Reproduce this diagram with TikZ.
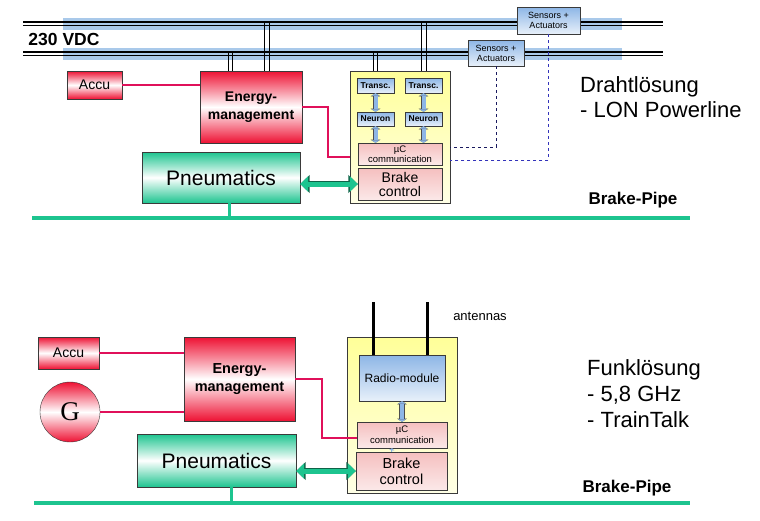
\documentclass[tikz,border=0pt]{standalone}
\usepackage{fontspec}
\setmainfont{Liberation Sans}
\newfontfamily\gfont{Liberation Serif}
\usepackage{tikz}
\usetikzlibrary{arrows.meta}
\usetikzlibrary{calc}
\usepackage{xcolor}
\definecolor{tikz-block}{HTML}{3A3A3A}
\definecolor{tikz-red}{HTML}{EE1133}
\definecolor{tikz-wire}{HTML}{E0105A}
\definecolor{tikz-green}{HTML}{1DC48F}
\definecolor{tikz-bus}{HTML}{A9C9EA}
\definecolor{tikz-blue}{HTML}{8DB6E6}
\definecolor{tikz-yellow}{HTML}{FFFF99}
\definecolor{tikz-pink}{HTML}{F5BFBF}
\definecolor{tikz-dash}{HTML}{3333BB}
\tikzset{every node/.style={align=center}}
\tikzstyle{redblock} = [draw=tikz-block, top color=tikz-red, bottom color=tikz-red, middle color=white, inner sep=0pt]
\tikzstyle{greenblock} = [draw=tikz-block, top color=tikz-green, bottom color=tikz-green, middle color=white, inner sep=0pt]
\tikzstyle{blueblock} = [draw=tikz-block, top color=tikz-blue, bottom color=tikz-blue!20, inner sep=0pt]
\tikzstyle{unit} = [draw=tikz-block, top color=tikz-yellow, bottom color=tikz-yellow!25, inner sep=0pt]
\tikzstyle{pinkblock} = [draw=tikz-block, top color=tikz-pink, bottom color=tikz-pink!35, inner sep=0pt]
\tikzstyle{wire} = [draw=tikz-wire, line width=2pt]
\tikzstyle{tap} = [draw=black, line width=0.7pt]
\tikzstyle{bus} = [draw=black, line width=1.8pt]
\tikzstyle{pipe} = [draw=tikz-green, line width=4.5pt]
\tikzstyle{sens} = [draw=tikz-dash, dashed, line width=0.6pt]
\tikzstyle{pn} = [draw=tikz-green, line width=5pt, {Triangle[length=8pt,width=15pt]}-{Triangle[length=8pt,width=15pt]},
  preaction={draw=tikz-green!50!black, line width=6.6pt, {Triangle[length=9.5pt,width=17.5pt]}-{Triangle[length=9.5pt,width=17.5pt]}}]
\tikzstyle{dbl} = [draw=tikz-blue, line width=4pt, {Triangle[length=2.5pt,width=8pt]}-{Triangle[length=2.5pt,width=8pt]},
  preaction={draw=black!70, line width=5.4pt, {Triangle[length=3.2pt,width=9.8pt]}-{Triangle[length=3.2pt,width=9.8pt]}}]

\begin{document}
\begin{tikzpicture}[x=1pt, y=-1pt]
      \useasboundingbox (0,0) rectangle (760,520);
      % 230 VDC bus
      \foreach \y in {23.5,53.5} \fill[tikz-bus] (63,\y-6) rectangle (622,\y+6);
      \foreach \y in {22,25.5,52,55.5} \draw[bus] (23,\y) -- (663,\y);
      \coordinate (bus1) at (0,21);
      \coordinate (bus2) at (0,51);
      \node[font=\bfseries\fontsize{17.5}{18}\selectfont] (vdc) at (64,39) {230 VDC};

      % Drahtloesung
      \node[redblock, minimum width=55pt, minimum height=28pt, font=\fontsize{14}{16}\selectfont] (accu1) at (94.5,85) {Accu};
      \node[redblock, minimum width=102pt, minimum height=72pt, font=\bfseries\fontsize{14}{18}\selectfont] (em1) at (251,107) {Energy-\\management};
      \node[greenblock, minimum width=158pt, minimum height=51pt, font=\fontsize{21}{22}\selectfont] (pn1) at (221,177.5) {Pneumatics};
      \node[unit, minimum width=100pt, minimum height=132pt] (unit1) at (400,137) {};
      \node[blueblock, minimum width=37pt, minimum height=15pt, font=\bfseries\fontsize{8.5}{9}\selectfont] (tr1a) at (375.5,85.5) {Transc.};
      \node[blueblock, minimum width=37pt, minimum height=15pt, font=\bfseries\fontsize{8.5}{9}\selectfont] (tr1b) at (423.5,85.5) {Transc.};
      \node[blueblock, minimum width=37pt, minimum height=14pt, font=\bfseries\fontsize{8.5}{9}\selectfont] (ne1a) at (375.5,119) {Neuron};
      \node[blueblock, minimum width=37pt, minimum height=14pt, font=\bfseries\fontsize{8.5}{9}\selectfont] (ne1b) at (423.5,119) {Neuron};
      \node[pinkblock, minimum width=84pt, minimum height=22pt, font=\fontsize{9.5}{10}\selectfont] (uc1) at (400,154) {µC\\communication};
      \node[pinkblock, minimum width=84pt, minimum height=32pt, font=\fontsize{14}{14}\selectfont] (bc1) at (400,184) {Brake\\control};
      \node[blueblock, minimum width=63pt, minimum height=27pt, font=\fontsize{9}{10}\selectfont] (sa1) at (548.5,20.5) {Sensors +\\Actuators};
      \node[blueblock, minimum width=56pt, minimum height=26pt, font=\fontsize{9}{10}\selectfont] (sa2) at (496,53) {Sensors +\\Actuators};
      \node[anchor=north west, inner sep=0pt, align=left, font=\fontsize{22}{25}\selectfont] (txt1) at (580,76) {Drahtlösung\\- LON Powerline};

      \foreach \dx/\b in {29/bus2, 33/bus2, 65/bus1, 70/bus1}
        \draw[tap] (em1.north west) ++(\dx,0) coordinate (t) -- (t |- \b);
      \foreach \dx/\b in {24/bus2, 28/bus2, 72/bus1, 77/bus1}
        \draw[tap] (unit1.north west) ++(\dx,0) coordinate (t) -- (t |- \b);
      \foreach \c in {a,b} {
        \draw[dbl] (tr1\c) -- (ne1\c);
        \draw[dbl] (ne1\c) -- (ne1\c |- uc1.north);
      }
      \draw[wire] (accu1.east) -- (accu1.east -| em1.west);
      \draw[wire] (em1.east) -- ++(26,0) |- ([yshift=-3pt]uc1.west -| unit1.west);
      \draw[sens, draw=black!50!tikz-dash] (sa2.south) |- ([yshift=-4pt]uc1.north -| unit1.east);
      \draw[sens, line width=1pt] (sa1.south) |- ([yshift=-6pt]uc1.east -| unit1.east);
      \draw[pn] (bc1.west -| pn1.east) -- (bc1.west);
      \coordinate (bp1w) at (32,218);
      \coordinate (bp1e) at (690,218);
      \draw[pipe] (bp1w) -- (bp1e);
      \draw[pipe, line width=3pt] ([xshift=8pt]pn1.south) -- ([xshift=8pt]pn1.south |- bp1w);
      \node[font=\bfseries\fontsize{17}{17}\selectfont] (bp1) at (633,200) {Brake-Pipe};

      % Funkloesung
      \node[redblock, minimum width=61pt, minimum height=32pt, font=\fontsize{14}{16}\selectfont] (accu2) at (68.5,353) {Accu};
      \node[redblock, circle, minimum size=60pt, font=\gfont\fontsize{27}{27}\selectfont] (gen) at (70,412) {G};
      \node[redblock, minimum width=111pt, minimum height=84pt, font=\bfseries\fontsize{14.5}{18}\selectfont] (em2) at (239.5,379) {Energy-\\management};
      \node[greenblock, minimum width=159pt, minimum height=53pt, font=\fontsize{21}{22}\selectfont] (pn2) at (216.5,460.5) {Pneumatics};
      \node[unit, minimum width=110pt, minimum height=156pt] (unit2) at (402,415) {};
      \node[blueblock, minimum width=86pt, minimum height=46pt, font=\fontsize{12}{14}\selectfont] (radio) at (402,378) {Radio-module};
      \node[pinkblock, minimum width=90pt, minimum height=26pt, font=\fontsize{9.5}{11}\selectfont] (uc2) at (402,435) {µC\\communication};
      \node[pinkblock, minimum width=91pt, minimum height=38pt, font=\fontsize{14.5}{16}\selectfont] (bc2) at (401.5,471) {Brake\\control};
      \node[font=\fontsize{13}{13}\selectfont] (antlbl) at (480,316) {antennas};
      \node[anchor=north west, inner sep=0pt, align=left, font=\fontsize{22}{26}\selectfont] (txt2) at (587,359) {Funklösung\\- 5,8 GHz\\- TrainTalk};

      \coordinate (ant1) at (373,302);
      \coordinate (ant2) at (427,302);
      \draw[line width=3pt] (ant1) -- (ant1 |- radio.north);
      \draw[line width=3pt] (ant2) -- (ant2 |- radio.north);
      \draw[dbl] (radio) -- (uc2);
      \draw[draw=tikz-blue, line width=1pt, -{Triangle[length=2pt,width=5pt]}] ([xshift=-10pt]bc2.north) -- ([xshift=-10pt]uc2.south);
      \draw[wire] (accu2.east) -- (accu2.east -| em2.west);
      \draw[wire] (gen.east) -- (gen.east -| em2.west);
      \draw[wire] (em2.east) -- ++(27,0) |- ([yshift=-3pt]uc2.west);
      \draw[pn] (bc2.west -| pn2.east) -- (bc2.west);
      \coordinate (bp2w) at (34,503);
      \coordinate (bp2e) at (690,503);
      \draw[pipe] (bp2w) -- (bp2e);
      \draw[pipe, line width=3pt] ([xshift=15pt]pn2.south) -- ([xshift=15pt]pn2.south |- bp2w);
      \node[font=\bfseries\fontsize{17}{17}\selectfont] (bp2) at (627,488) {Brake-Pipe};
    \end{tikzpicture}
\end{document}
